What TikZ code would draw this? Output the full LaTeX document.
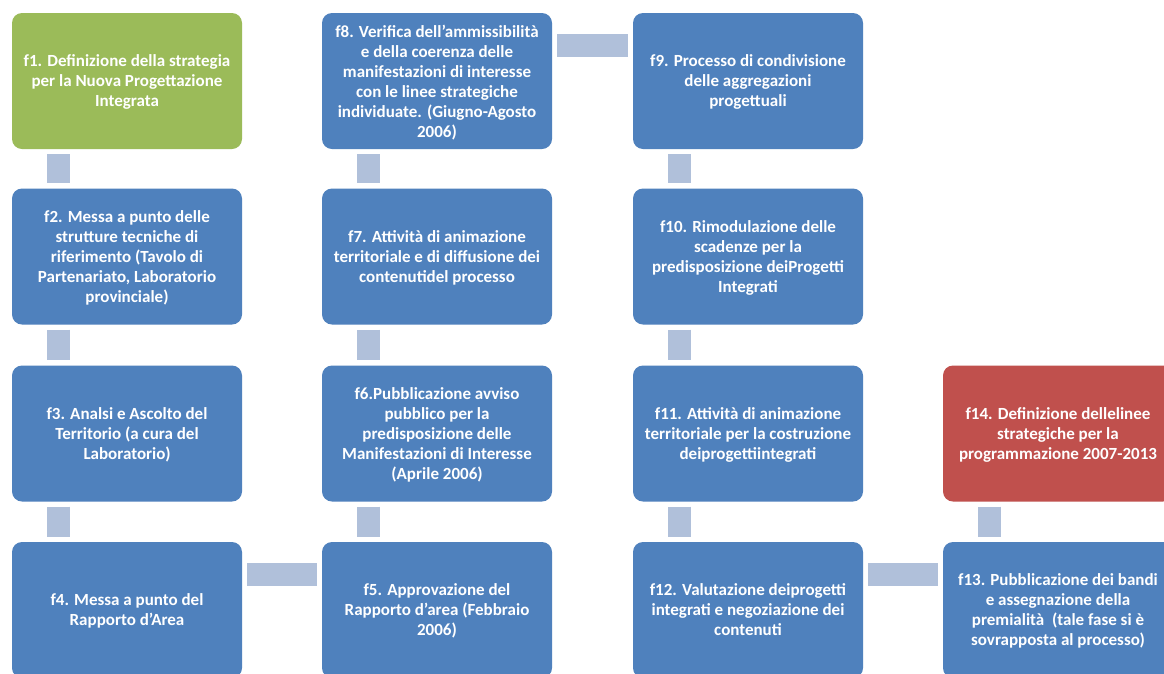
\documentclass[tikz,border=0pt]{standalone}
\usepackage{fontspec}
\setmainfont{Carlito}
\usetikzlibrary{calc}
\definecolor{cblue}{HTML}{4F81BD}
\definecolor{cgreen}{HTML}{9BBB59}
\definecolor{cred}{HTML}{C0504D}
\definecolor{cconn}{HTML}{B0C0DA}
\tikzset{
  phase/.style={rectangle, rounded corners=10pt, minimum width=230pt, minimum height=136pt,
    fill=cblue, text=white, align=center, inner sep=0pt, text depth=0pt,
    font=\fontsize{17}{20}\selectfont\bfseries},
  conn/.style={draw=cconn, line width=23pt},
}
\begin{document}
\begin{tikzpicture}[x=1pt,y=-1pt]
\useasboundingbox (0,0) rectangle (1164,673);
\clip (0,0) rectangle (1164,673);
\fill[white] (0,0) rectangle (1164,673);
% column 1
\node[phase, fill=cgreen] (f1) at (127,81) {f1. Definizione della strategia\\per la Nuova Progettazione\\Integrata};
\node[phase] (f2) at (127,256.5) {f2. Messa a punto delle\\strutture tecniche di\\riferimento (Tavolo di\\Partenariato, Laboratorio\\provinciale)};
\node[phase] (f3) at (127,433.5) {f3. Analsi e Ascolto del\\Territorio (a cura del\\Laboratorio)};
\node[phase] (f4) at (127,610) {f4. Messa a punto del\\Rapporto d'Area};
% column 2
\node[phase] (f8) at (437,81) {f8. Verifica dell’ammissibilità\\e della coerenza delle\\manifestazioni di interesse\\con le linee strategiche\\individuate. (Giugno-Agosto\\2006)};
\node[phase] (f7) at (437,256.5) {f7. Attività di animazione\\territoriale e di diffusione dei\\contenutidel processo};
\node[phase] (f6) at (437,433.5) {f6.Pubblicazione avviso\\pubblico per la\\predisposizione delle\\Manifestazioni di Interesse\\(Aprile 2006)};
\node[phase] (f5) at (437,610) {f5. Approvazione del\\Rapporto d'area (Febbraio\\2006)};
% column 3
\node[phase] (f9) at (748,81) {f9. Processo di condivisione\\delle aggregazioni\\progettuali};
\node[phase] (f10) at (748,256.5) {f10. Rimodulazione delle\\scadenze per la\\predisposizione deiProgetti\\Integrati};
\node[phase] (f11) at (748,433.5) {f11. Attività di animazione\\territoriale per la costruzione\\deiprogettiintegrati};
\node[phase] (f12) at (748,610) {f12. Valutazione deiprogetti\\integrati e negoziazione dei\\contenuti};
% column 4
\node[phase, fill=cred] (f14) at (1058,433.5) {f14. Definizione dellelinee\\strategiche per la\\programmazione 2007-2013};
\node[phase] (f13) at (1058,610) {f13. Pubblicazione dei bandi\\e assegnazione della\\premialità~ (tale fase si è\\sovrapposta al processo)};
% vertical connectors (upper box -- lower box)
\foreach \a/\b in {f1/f2,f2/f3,f3/f4,f8/f7,f7/f6,f6/f5,f9/f10,f10/f11,f11/f12,f14/f13}{
  \draw[conn, shorten <=5pt, shorten >=5pt]
    ($(\a.south west)+(46.5,0)$) coordinate (s) -- (s |- \b.north);
}
% horizontal connectors
\draw[conn, shorten <=5pt, shorten >=5pt] ($(f4.north east)+(0,33)$) coordinate (h1) -- (h1 -| f5.west);
\draw[conn, shorten <=5pt, shorten >=5pt] ($(f8.north east)+(0,32.5)$) coordinate (h2) -- (h2 -| f9.west);
\draw[conn, shorten <=5pt, shorten >=5pt] ($(f12.north east)+(0,33)$) coordinate (h3) -- (h3 -| f13.west);
\end{tikzpicture}
\end{document}
